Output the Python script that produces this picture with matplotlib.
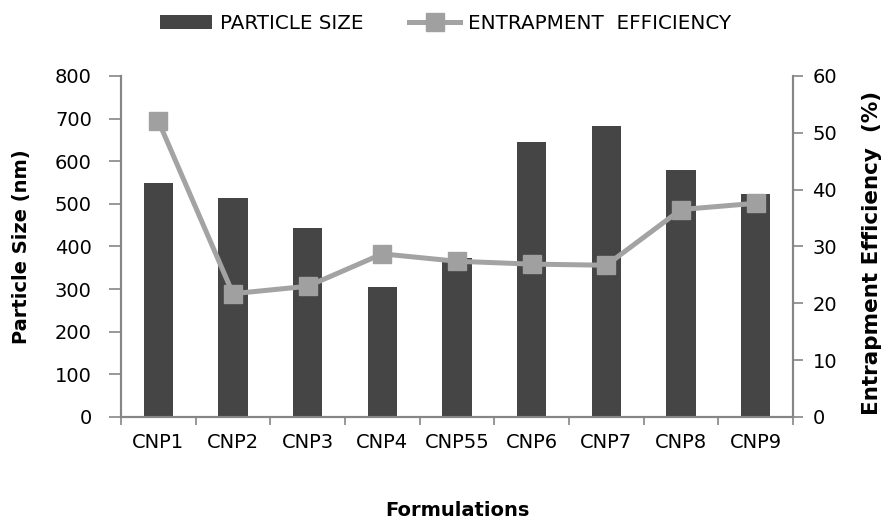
import matplotlib
matplotlib.use("Agg")
import matplotlib.pyplot as plt
import numpy as np
from matplotlib.ticker import FixedLocator, MultipleLocator

categories = ["CNP1", "CNP2", "CNP3", "CNP4", "CNP55", "CNP6", "CNP7", "CNP8", "CNP9"]
particle_size = [550, 514, 443, 306, 372, 645, 683, 579, 523]
entrapment_eff = [52.1, 21.7, 23.0, 28.7, 27.4, 26.9, 26.7, 36.5, 37.6]

plt.rcParams['font.family'] = ['DejaVu Sans']

fig = plt.figure(figsize=(8.94, 5.24), dpi=100)
ax = fig.add_axes([0.1353, 0.2042, 0.7517, 0.6508])
ax2 = ax.twinx()

x = np.arange(len(categories))
bar_color = "#454545"
line_color = "#a3a3a3"
axis_color = "#868686"

bars = ax.bar(x, particle_size, width=0.39, color=bar_color, zorder=2, label="PARTICLE SIZE")
line, = ax2.plot(x, entrapment_eff, color=line_color, lw=3.6, marker="s", ms=13.5,
                 mfc="#a0a0a0", mec="#a0a0a0", zorder=3, label="ENTRAPMENT  EFFICIENCY")

ax.set_xlim(-0.5, len(categories) - 0.5)
ax.set_ylim(0, 800)
ax2.set_ylim(0, 60)
ax.yaxis.set_major_locator(MultipleLocator(100))
ax2.yaxis.set_major_locator(MultipleLocator(10))

ax.set_xticks(x)
ax.set_xticklabels(categories)
ax.xaxis.set_minor_locator(FixedLocator(np.arange(-0.5, len(categories), 1.0)))
ax.tick_params(axis="x", which="major", length=0, pad=11.5, labelsize=14)
ax.tick_params(axis="x", which="minor", length=6, width=1.2, color=axis_color, direction="out")
ax.tick_params(axis="y", length=9, width=1.2, color=axis_color, direction="out", pad=12, labelsize=14)
ax2.tick_params(axis="y", length=7, width=1.2, color=axis_color, direction="out", pad=7, labelsize=14)

for a in (ax, ax2):
    a.spines["top"].set_visible(False)
    for s in ("left", "right", "bottom"):
        a.spines[s].set_color(axis_color)
        a.spines[s].set_linewidth(1.5)
ax.patch.set_visible(False)
ax2.patch.set_visible(False)
ax.set_zorder(1)
ax2.set_zorder(2)

ax.set_ylabel("Particle Size (nm)", fontsize=14, fontweight="bold")
ax.yaxis.set_label_coords(-0.134, 0.5)
ax2.set_ylabel("Entrapment Efficiency  (%)", fontsize=15.5, fontweight="bold", rotation=90)
ax2.yaxis.set_label_coords(1.103, 0.48)
ax.set_xlabel("Formulations", fontsize=14, fontweight="bold")
ax.xaxis.set_label_coords(0.5, -0.245)

fig.legend(handles=[bars, line], labels=["PARTICLE SIZE", "ENTRAPMENT  EFFICIENCY"],
           loc="center", bbox_to_anchor=(0.4985, 0.955), ncol=2, frameon=False,
           fontsize=14.3, handlelength=2.6, columnspacing=2.3, handletextpad=0.4,
           borderpad=0, borderaxespad=0)

fig.savefig("out.png", dpi=100, facecolor="white")
